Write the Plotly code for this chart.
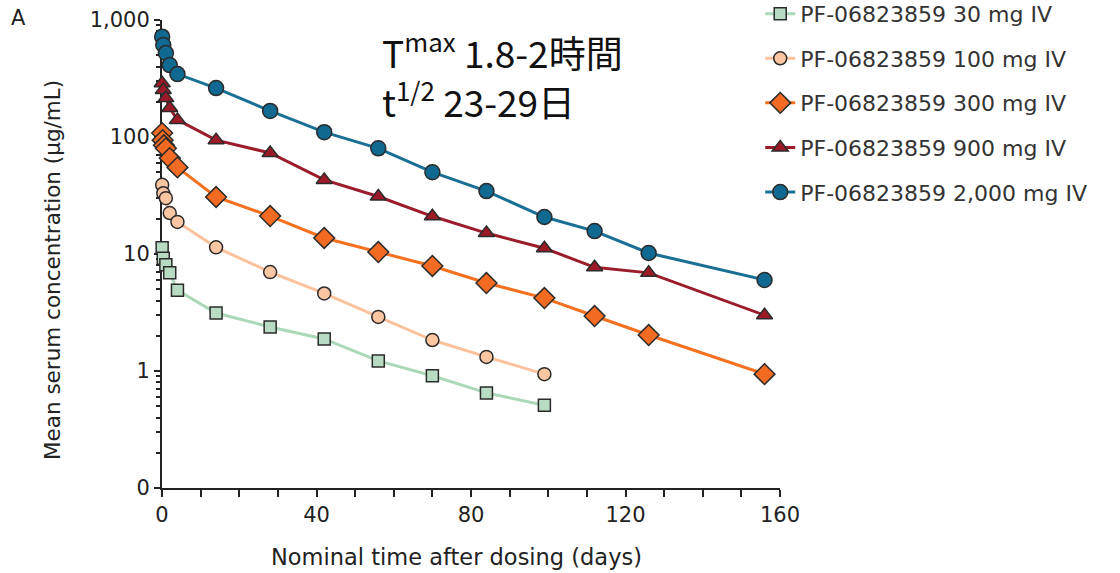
import plotly.graph_objects as go

# ---- data ----
days_early = [0.04, 0.33, 1, 2, 4]
days_early_300 = [0.04, 0.17, 0.5, 1, 2, 4]
days_late_short = [14, 28, 42, 56, 70, 84, 99]
days_late_long = [14, 28, 42, 56, 70, 84, 99, 112, 126, 156]

conc_30 = [11.3, 9.2, 8.1, 6.9, 4.9, 3.13, 2.38, 1.88, 1.22, 0.91, 0.65, 0.51]
conc_100 = [39, 33, 30, 22.4, 18.8, 11.4, 7.0, 4.6, 2.9, 1.84, 1.32, 0.94]
conc_300 = [108, 94, 85, 80, 66, 55, 30.7, 21.1, 13.7, 10.4, 7.9, 5.65, 4.2, 2.95, 2.03, 0.94]
conc_900 = [288, 252, 215, 177, 140, 94, 73, 43, 31, 21, 15.1, 11.2, 7.7, 6.9, 3.0]
conc_2000 = [720, 611, 522, 412, 345, 262, 167, 110, 80, 50, 34.5, 20.7, 15.7, 10.2, 6.0]

labels = ["PF-06823859 30 mg IV", "PF-06823859 100 mg IV", "PF-06823859 300 mg IV",
          "PF-06823859 900 mg IV", "PF-06823859 2,000 mg IV"]

y_tickvals = [0.1, 1, 10, 100, 1000]
y_ticktext = ["0", "1", "10", "100", "1,000"]
y_minor = [m * 10 ** e for e in (-1, 0, 1, 2) for m in range(2, 10)]
x_tickvals = [0, 40, 80, 120, 160]

series = [
    (days_early + days_late_short, conc_30, "square", 12, "#b7dcc3", "#aad8b9"),
    (days_early + days_late_short, conc_100, "circle", 13, "#fdc6a3", "#fcc29e"),
    (days_early_300 + days_late_long, conc_300, "diamond", 16, "#f36a22", "#f5711f"),
    (days_early + days_late_long, conc_900, "triangle-up", 14, "#9c1a28", "#9b1c2b"),
    (days_early + days_late_long, conc_2000, "circle", 15, "#0f6990", "#1a6f95"),
]

FONT = "DejaVu Sans, Liberation Sans, Arial, sans-serif"

fig = go.Figure()
for i, (xs, ys, sym, size, fill, line) in enumerate(series):
    fig.add_trace(go.Scatter(
        x=xs, y=ys, mode="lines+markers", name=labels[i], legendgroup=f"g{i}",
        line=dict(color=line, width=3),
        marker=dict(symbol=sym, size=size, color=fill, line=dict(color="#2b2b2b", width=1.5)),
        cliponaxis=False,
    ))

fig.update_layout(
    width=1120, height=573,
    margin=dict(l=162, r=340, t=20, b=85, autoexpand=False),
    paper_bgcolor="white", plot_bgcolor="white",
    font=dict(family=FONT, size=21, color="#222"),
    showlegend=True,
    legend=dict(x=0.968, y=1.058, xanchor="left", yanchor="top",
                font=dict(family=FONT, size=22, color="#333"),
                tracegroupgap=13, bgcolor="rgba(0,0,0,0)"),
    xaxis=dict(range=[0, 160], tickmode="array", tickvals=x_tickvals,
               showline=True, linecolor="#222", linewidth=2, ticks="outside",
               ticklen=7, tickwidth=2, tickcolor="#222", showgrid=False, zeroline=False,
               minor=dict(dtick=10, tick0=0, ticks="outside", ticklen=7, tickwidth=2,
                          tickcolor="#222", showgrid=False),
               tickfont=dict(size=21, color="#222"),
               layer="below traces"),
    yaxis=dict(type="log", range=[-1, 3], tickmode="array", tickvals=y_tickvals,
               ticktext=y_ticktext, showline=True, linecolor="#222", linewidth=2,
               ticks="outside", ticklen=6, tickwidth=2, tickcolor="#222",
               showgrid=False, zeroline=False,
               minor=dict(tickmode="array", tickvals=y_minor, ticks="outside", ticklen=4,
                          tickwidth=1.5, tickcolor="#222", showgrid=False),
               tickfont=dict(size=21, color="#222"),
               layer="below traces"),
)

# axis titles placed to match the reference
fig.add_annotation(text="Nominal time after dosing (days)", xref="paper", yref="paper",
                   x=(456 - 162) / 618, y=-(557 - 488) / 468, xanchor="center", yanchor="middle",
                   showarrow=False, font=dict(family=FONT, size=22.5, color="#222"))
fig.add_annotation(text="Mean serum concentration (µg/mL)", xref="paper", yref="paper",
                   x=(52 - 162) / 618, y=1 - (270 - 20) / 468, xanchor="center", yanchor="middle",
                   textangle=-90, showarrow=False, font=dict(family=FONT, size=21.5, color="#222"))

JP = "Noto Sans CJK JP, Noto Sans, sans-serif"
fig.add_annotation(text="T<sup>max</sup> 1.8-2時間", xref="paper", yref="paper",
                   x=(380 - 162) / 618, y=1 - (50 - 20) / 468, xanchor="left", yanchor="middle",
                   showarrow=False, font=dict(family=JP, size=37, color="#111"))
fig.add_annotation(text="t<sup>1/2</sup> 23-29日", xref="paper", yref="paper",
                   x=(380 - 162) / 618, y=1 - (99 - 20) / 468, xanchor="left", yanchor="middle",
                   showarrow=False, font=dict(family=JP, size=37, color="#111"))
fig.add_annotation(text="A", xref="paper", yref="paper",
                   x=(9 - 162) / 618, y=1 - (18 - 20) / 468, xanchor="left", yanchor="middle",
                   showarrow=False, font=dict(family=FONT, size=21, color="#222"))

fig.write_html("out.html")
